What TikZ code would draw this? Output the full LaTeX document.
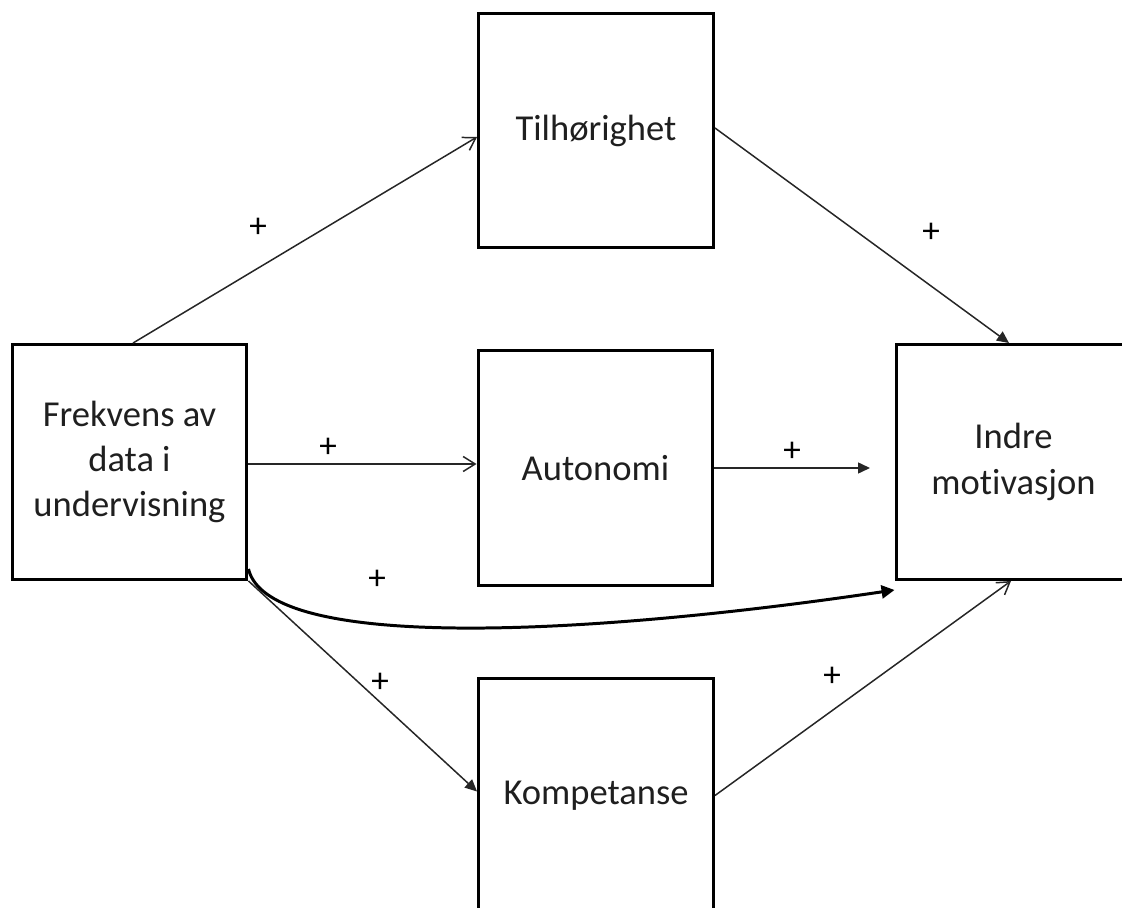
\documentclass[tikz,border=0pt]{standalone}
\usepackage{fontspec}
\setmainfont{Carlito}[Ligatures=NoCommon]
\usetikzlibrary{
  arrows.meta,
  positioning,
  calc
}

\begin{document}
\begin{tikzpicture}[
    x=0.02cm, y=-0.02cm,
    box/.style={draw, line width=1.7pt, minimum width=4.7cm, minimum height=4.7cm,
      inner sep=0pt, align=center, text=black!88, font=\fontsize{20.8}{25.8}\selectfont},
    pl/.style={font=\fontsize{20}{24}\selectfont, inner sep=0pt},
    ed/.style={line width=0.85pt, draw=black!85},
    op/.style={-{Straight Barb[length=0.24cm,width=0.3cm]}},
    fl/.style={-{Triangle[length=0.24cm,width=0.22cm]}}
  ]
    \clip (0,0) rectangle (1122,908);
    \node[box] (frek)  at (129.5,462)  {Frekvens av\\data i\\undervisning};
    \node[box] (tilh)  at (596,130.5)  {Tilhørighet};
    \node[box] (auto)  at (595.5,468)  {Autonomi};
    \node[box] (komp)  at (596,795.5)  {Kompetanse};
    \node[box] (indre) at (1013.5,462) {Indre\\motivasjon};
    \coordinate (gap) at (870,468);
    % arrows
    \draw[ed,op] ([xshift=0.07cm]frek.north) -- ([yshift=-0.13cm]tilh.west);
    \draw[ed,fl] ([yshift=0.05cm]tilh.east) -- ([xshift=-0.09cm]indre.north);
    \draw[ed,op] ([yshift=-0.04cm]frek.east) -- ([yshift=-0.04cm]frek.east -| auto.west);
    \draw[ed,fl] (auto.east) -- (gap);
    \draw[ed,fl] (frek.south east) -- ([yshift=0.08cm]komp.west);
    \draw[ed,op] (komp.east) -- ([xshift=-0.05cm]indre.south);
    \draw[line width=1.7pt,-{Triangle[length=0.26cm,width=0.26cm]}]
      ([yshift=0.24cm]frek.south east) .. controls +(20,85) and +(-296,44) ..
      ([yshift=-0.18cm]indre.south west);
    % signs
    \node[pl] (p1) at (258,228) {+};
    \node[pl] (p2) at (931,233) {+};
    \node[pl] (p3) at (328,448) {+};
    \node[pl] (p4) at (792,452) {+};
    \node[pl] (p5) at (377,580) {+};
    \node[pl] (p6) at (380,683) {+};
    \node[pl] (p7) at (832,677) {+};
\end{tikzpicture}
\end{document}
